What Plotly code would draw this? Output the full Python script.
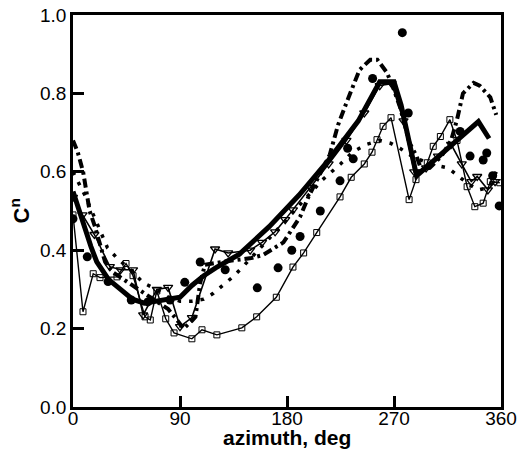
import plotly.graph_objects as go

# ---- data ----
thick_deg = [0, 5, 10, 15, 20, 30, 40, 50, 60, 70, 80, 90, 100, 110, 120, 140, 165, 190, 215, 240, 258, 270, 276, 282, 289, 341, 350]
thick_cn  = [0.55, 0.50, 0.45, 0.41, 0.37, 0.325, 0.30, 0.275, 0.265, 0.27, 0.275, 0.28, 0.31, 0.335, 0.355, 0.39, 0.46, 0.54, 0.63, 0.73, 0.83, 0.83, 0.77, 0.69, 0.59, 0.728, 0.685]

dd_deg = [0, 4, 8.5, 12, 14, 18.5, 21, 24.5, 27, 33, 40, 50, 60, 70, 80, 88, 93, 100, 103, 107, 111, 125, 140, 150, 160, 177, 191, 198, 216, 223, 230, 241, 250, 256, 264, 269, 275, 283, 289, 293, 300, 310, 318, 323, 328, 337, 342, 351, 356]
dd_cn  = [0.68, 0.65, 0.60, 0.537, 0.50, 0.46, 0.434, 0.40, 0.37, 0.345, 0.33, 0.31, 0.29, 0.27, 0.25, 0.22, 0.20, 0.22, 0.23, 0.317, 0.363, 0.37, 0.375, 0.38, 0.388, 0.42, 0.485, 0.536, 0.644, 0.72, 0.776, 0.86, 0.886, 0.886, 0.853, 0.817, 0.766, 0.674, 0.64, 0.605, 0.61, 0.64, 0.68, 0.733, 0.80, 0.827, 0.82, 0.79, 0.745]

sq_deg = [0, 8.4, 17, 22.7, 37, 44.6, 50.5, 60.6, 65, 70.5, 78, 85, 100, 108.5, 121, 142, 154.5, 171, 185, 194, 205, 224.6, 234, 245, 251.5, 255.7, 260.8, 267.5, 282.7, 288.5, 298, 303, 309, 317, 323, 331.5, 338, 345, 351, 359]
sq_cn  = [0.49, 0.243, 0.34, 0.33, 0.332, 0.366, 0.335, 0.23, 0.222, 0.296, 0.225, 0.189, 0.174, 0.197, 0.184, 0.202, 0.23, 0.28, 0.357, 0.393, 0.445, 0.536, 0.586, 0.62, 0.65, 0.682, 0.716, 0.738, 0.529, 0.58, 0.623, 0.665, 0.69, 0.733, 0.68, 0.562, 0.511, 0.52, 0.575, 0.572]

tri_deg = [0, 8, 18, 31, 40, 50.5, 59, 70.5, 80, 90, 100, 119.5, 130.5, 149, 159, 170, 178.5, 185, 200, 215, 230, 245, 258, 268, 278, 287, 297, 307, 318, 327, 335, 340, 349, 355]
tri_cn  = [0.535, 0.49, 0.44, 0.358, 0.35, 0.35, 0.235, 0.30, 0.305, 0.205, 0.228, 0.403, 0.393, 0.40, 0.42, 0.447, 0.478, 0.503, 0.56, 0.62, 0.68, 0.75, 0.82, 0.825, 0.73, 0.60, 0.61, 0.64, 0.67, 0.62, 0.575, 0.588, 0.554, 0.575]

circ_deg = [0, 12, 29.5, 49, 63, 81.6, 94, 107, 128, 155, 172.5, 184, 191, 208, 224.6, 231, 235.7, 252, 277, 282, 325.6, 334, 345, 348, 353, 358.5]
circ_cn  = [0.48, 0.383, 0.32, 0.273, 0.268, 0.273, 0.318, 0.37, 0.35, 0.304, 0.355, 0.40, 0.435, 0.50, 0.577, 0.66, 0.633, 0.838, 0.955, 0.75, 0.703, 0.64, 0.63, 0.648, 0.59, 0.513]

dot_deg = [0, 10, 20, 29, 37, 50, 59, 70, 80, 90, 100, 110, 118, 126, 134.5, 142, 150, 165, 180, 195, 210, 225, 235, 247, 258, 267, 275, 285, 300, 315.5, 324, 332, 341, 350, 356]
dot_cn  = [0.60, 0.54, 0.47, 0.406, 0.38, 0.345, 0.317, 0.30, 0.28, 0.27, 0.27, 0.275, 0.29, 0.31, 0.332, 0.355, 0.38, 0.43, 0.48, 0.53, 0.58, 0.62, 0.65, 0.67, 0.68, 0.673, 0.66, 0.64, 0.62, 0.61, 0.59, 0.57, 0.554, 0.56, 0.60]

x_ticks = [0, 90, 180, 270, 360]
y_ticks = [0.0, 0.2, 0.4, 0.6, 0.8, 1.0]
y_tick_text = ["0.0", "0.2", "0.4", "0.6", "0.8", "1.0"]

fig = go.Figure()
fig.add_trace(go.Scatter(x=sq_deg, y=sq_cn, mode="lines+markers",
                         line=dict(color="black", width=1.4),
                         marker=dict(symbol="square-open", size=6, color="black", line=dict(width=1))))
fig.add_trace(go.Scatter(x=tri_deg, y=tri_cn, mode="lines+markers",
                         line=dict(color="black", width=1.6),
                         marker=dict(symbol="triangle-down-open", size=8, color="black", line=dict(width=1.3))))
fig.add_trace(go.Scatter(x=dot_deg, y=dot_cn, mode="lines",
                         line=dict(color="black", width=3.5, dash="3.5px,8px")))
fig.add_trace(go.Scatter(x=dd_deg, y=dd_cn, mode="lines",
                         line=dict(color="black", width=4, dash="9px,4px,3px,4px")))
fig.add_trace(go.Scatter(x=thick_deg, y=thick_cn, mode="lines",
                         line=dict(color="black", width=5)))
fig.add_trace(go.Scatter(x=circ_deg, y=circ_cn, mode="markers",
                         marker=dict(symbol="circle", size=9, color="black")))

axis_font = dict(family="Liberation Sans, Arial, sans-serif", size=19, color="black")
fig.update_layout(
    width=519, height=450,
    margin=dict(l=73, r=18, t=15, b=43),
    paper_bgcolor="white", plot_bgcolor="white",
    showlegend=False,
    xaxis=dict(range=[0, 360], tickvals=x_ticks, ticktext=[str(v) for v in x_ticks],
               ticks="inside", ticklen=11, tickwidth=2.5, tickcolor="black",
               showline=True, linewidth=2.5, linecolor="black", mirror=True,
               showgrid=False, zeroline=False, tickfont=axis_font,
               automargin=False, ticklabelstandoff=-8),
    yaxis=dict(range=[0, 1.0], tickvals=y_ticks, ticktext=y_tick_text,
               ticks="inside", ticklen=11, tickwidth=2.5, tickcolor="black",
               showline=True, linewidth=2.5, linecolor="black", mirror=True,
               showgrid=False, zeroline=False, tickfont=axis_font,
               automargin=False, ticklabelstandoff=0),
    annotations=[
        dict(text="<b>azimuth, deg</b>", xref="paper", yref="paper", x=0.5, y=-0.078,
             xanchor="center", yanchor="middle", showarrow=False,
             font=dict(family="Liberation Sans, Arial, sans-serif", size=21, color="black")),
        dict(text="<b>C<sup>n</sup></b>", xref="paper", yref="paper", x=-0.125, y=0.5,
             xanchor="center", yanchor="middle", showarrow=False, textangle=-90,
             font=dict(family="Liberation Sans, Arial, sans-serif", size=22, color="black")),
    ],
)
fig.write_html("out.html", config={"displayModeBar": False},
               post_script="document.body.style.margin='0px';")
